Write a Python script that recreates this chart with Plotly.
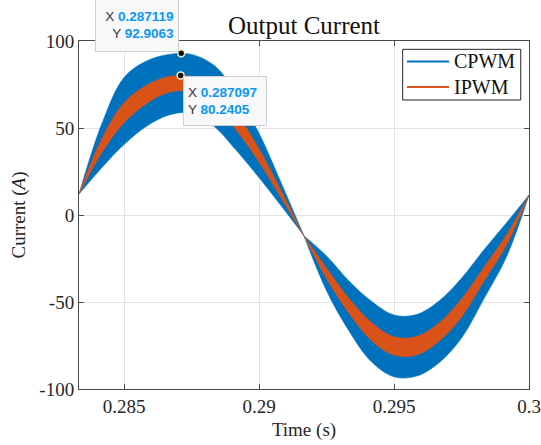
import plotly.graph_objects as go

# ---- data (time in s, current in A) ----
time_s = [0.283333, 0.284167, 0.285, 0.285833, 0.286667, 0.2875, 0.288333, 0.289167,
          0.29, 0.290833, 0.291667, 0.2925, 0.293333, 0.294167, 0.295, 0.295833,
          0.296667, 0.2975, 0.298333, 0.299167, 0.3]
cpwm_upper = [12, 52, 79, 88.5, 92.3, 92.3, 86, 70, 47, 18, -12, -23.5, -37.9,
              -49.6, -57.5, -57.2, -49.4, -36.3, -20, -4.5, 11.5]
cpwm_lower = [12, 27, 40.5, 51, 57.5, 58.5, 51, 37, 21.5, 5, -12, -43.5, -66.6,
              -84.4, -93, -92.6, -84.9, -70.7, -48, -24, 11.5]
ipwm_upper = [12, 43.5, 64.5, 74.5, 79.6, 79.6, 73.7, 58.5, 38, 13.5, -12, -30.5, -48,
              -61.8, -70, -69.8, -62, -48.3, -30, -11.3, 11.5]
ipwm_lower = [12, 35.5, 53, 64, 70.5, 70.8, 63.3, 48.5, 30.5, 9.5, -12, -36.5, -56.5,
              -72.2, -80.5, -80.5, -72.5, -58.7, -38, -17.2, 11.5]

series_names = ["CPWM", "IPWM"]
series_colors = ["#0072BD", "#D95319"]

datatip_x = [0.287119, 0.287097]
datatip_y = [92.9063, 80.2405]

x_ticks = [0.285, 0.29, 0.295, 0.3]
x_ticktext = ["0.285", "0.29", "0.295", "0.3"]
y_ticks = [-100, -50, 0, 50, 100]
y_ticktext = ["-100", "-50", "0", "50", "100"]

SERIF = "Liberation Serif"
SANS = "Liberation Sans"

fig = go.Figure()

# split each envelope at the pinch point (zero-width crossing) so the spline stays sharp there
pinch = time_s.index(0.291667)
segments = [slice(0, pinch + 1), slice(pinch, len(time_s))]

bands = [(cpwm_lower, cpwm_upper), (ipwm_lower, ipwm_upper)]
for (lo, up), name, col in zip(bands, series_names, series_colors):
    for seg in segments:
        fig.add_trace(go.Scatter(x=time_s[seg], y=lo[seg], mode="lines",
                                 line=dict(color=col, width=0.6, shape="spline"),
                                 showlegend=False, hoverinfo="skip"))
        fig.add_trace(go.Scatter(x=time_s[seg], y=up[seg], mode="lines",
                                 line=dict(color=col, width=0.6, shape="spline"),
                                 fill="tonexty", fillcolor=col, showlegend=False, hoverinfo="skip"))

fig.add_trace(go.Scatter(x=datatip_x, y=datatip_y, mode="markers", showlegend=False,
                         marker=dict(color="#111111", size=7, line=dict(color="#f3f0c8", width=1.5))))

def tip_text(xv, yv):
    return (f"X <b><span style='color:#0a97f5'>{xv}</span></b><br>"
            f"Y <b><span style='color:#0a97f5'>{yv}</span></b>")

fig.add_annotation(x=datatip_x[0], y=datatip_y[0], xref="x", yref="y", showarrow=False,
                   text=tip_text(datatip_x[0], datatip_y[0]), xanchor="right", yanchor="bottom",
                   align="right", valign="middle", width=74, height=44, xshift=-2, yshift=1,
                   font=dict(family=SANS, size=13.5, color="#333333"),
                   bgcolor="#f8f8fb", bordercolor="#cfcfd4", borderwidth=1, borderpad=4)
fig.add_annotation(x=datatip_x[1], y=datatip_y[1], xref="x", yref="y", showarrow=False,
                   text=tip_text(datatip_x[1], datatip_y[1]), xanchor="left", yanchor="top",
                   align="left", valign="middle", width=74, height=40, xshift=2, yshift=-1,
                   font=dict(family=SANS, size=13.5, color="#333333"),
                   bgcolor="#f8f8fb", bordercolor="#cfcfd4", borderwidth=1, borderpad=4)

# legend box drawn to match the reference (box, line samples, labels)
fig.add_shape(type="rect", xref="paper", yref="paper", x0=0.7193, x1=0.9816, y0=0.8305, y1=0.9761,
              line=dict(color="#262626", width=1), fillcolor="white", layer="above")
legend_y = [0.9411, 0.8678]
for name, col, ly in zip(series_names, series_colors, legend_y):
    fig.add_shape(type="line", xref="paper", yref="paper", x0=0.7289, x1=0.8222, y0=ly, y1=ly,
                  line=dict(color=col, width=2), layer="above")
    fig.add_annotation(xref="paper", yref="paper", x=0.8282, y=ly, xanchor="left", yanchor="middle",
                       text=name, showarrow=False,
                       font=dict(family=SERIF, size=20, color="#111111"))

axis_common = dict(showline=True, linecolor="#4a4a4a", linewidth=1, mirror="ticks",
                   ticks="inside", ticklen=5, tickcolor="#4a4a4a", showgrid=True,
                   gridcolor="#e3e3e3", gridwidth=1, zeroline=False, automargin=False,
                   tickfont=dict(family=SERIF, size=19, color="#262626"))

fig.update_xaxes(range=[0.283333, 0.3], tickvals=x_ticks, ticktext=x_ticktext,
                 title=dict(text="Time (s)", font=dict(family=SERIF, size=19, color="#262626"), standoff=6),
                 **axis_common)
fig.update_yaxes(range=[-100, 100], tickvals=y_ticks, ticktext=y_ticktext,
                 title=dict(text="Current (<i>A</i>)", font=dict(family=SERIF, size=19, color="#262626"), standoff=8),
                 **axis_common)

fig.update_layout(
    width=541, height=445,
    margin=dict(l=79, r=12, t=41, b=56),
    paper_bgcolor="white", plot_bgcolor="white",
    title=dict(text="Output Current", x=0.5, xref="paper", y=1 - 25 / 445, yref="container",
               yanchor="middle", font=dict(family=SERIF, size=25, color="#111111")),
    showlegend=False,
)

fig.write_html("out.html")
